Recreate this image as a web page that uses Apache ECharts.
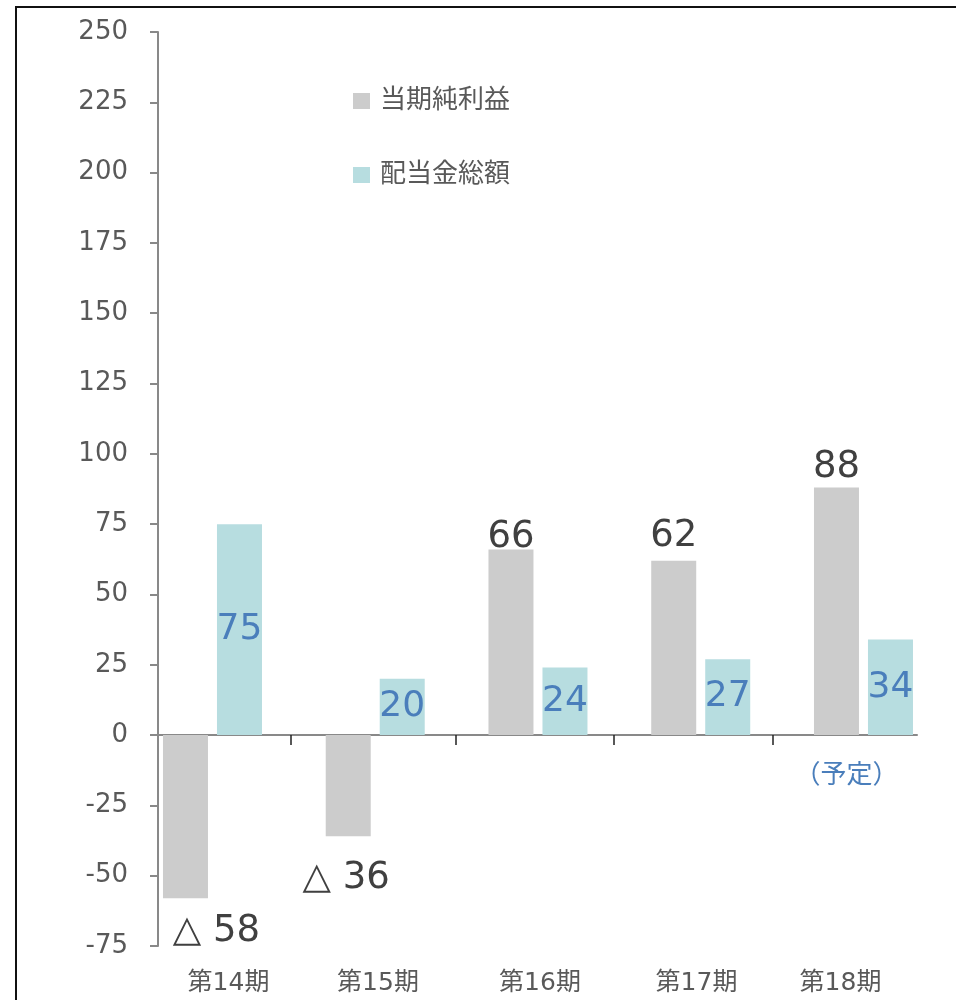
<!DOCTYPE html>
<html>
<head>
<meta charset="utf-8">
<script src="https://cdn.jsdelivr.net/npm/echarts@6/dist/echarts.min.js"></script>
<style>
html,body{margin:0;padding:0;background:#fff;}
#chart{width:956px;height:1000px;}
</style>
</head>
<body>
<div id="chart"></div>
<script>
// ---- data ----
const categories = ['第14期', '第15期', '第16期', '第17期', '第18期'];
const seriesNames = ['当期純利益', '配当金総額'];
const netIncome = [-58, -36, 66, 62, 88];
const dividends = [75, 20, 24, 27, 34];
const yMin = -75, yMax = 250, yInterval = 25;
const planNote = '（予定）';

// ---- style constants ----
const FONT = 'DejaVu Sans, "Noto Sans CJK JP", sans-serif';
const GRAY = '#CCCCCC';
const TEAL = '#B7DDE0';
const BLUE = '#4A7EBB';
const TEXT = '#595959';
// label nudges for the net income labels (px)
const niLabelOffsets = [[31, 10], [-2, 19], [0, 11], [0, -1], [0, 3]];
// axis (grid 1) pixel positions for ticks and category labels
const tickPos = [133, 298, 456, 615];
const labelPos = [70.5, 220, 382, 538.5, 682.5];

const chart = echarts.init(document.getElementById('chart'), null, {renderer: 'canvas'});

const option = {
  animation: false,
  backgroundColor: '#fff',
  textStyle: {fontFamily: FONT},
  graphic: [{
    type: 'rect', silent: true, z: 100,
    shape: {x: 16, y: 7, width: 1200, height: 1200},
    style: {fill: 'none', stroke: '#111', lineWidth: 2}
  }],
  legend: {
    orient: 'vertical', left: 348, top: 83,
    itemWidth: 17, itemHeight: 16, itemGap: 48, icon: 'rect',
    textStyle: {fontSize: 26, color: TEXT, fontFamily: FONT, padding: [0, 0, 0, 5]},
    data: seriesNames
  },
  grid: [
    {left: 131.1, top: 32, width: 813.75, height: 914, outerBoundsMode: 'none', containLabel: false},
    {left: 158, top: 32, width: 759, height: 914, outerBoundsMode: 'none', containLabel: false}
  ],
  xAxis: [
    {gridIndex: 0, type: 'category', data: categories,
     axisLine: {show: false}, axisTick: {show: false}, axisLabel: {show: false}},
    {gridIndex: 1, type: 'value', min: 0, max: 759,
     splitLine: {show: false},
     axisLine: {onZero: true, lineStyle: {color: '#898989', width: 2}},
     axisTick: {show: true, customValues: tickPos, length: 10, lineStyle: {color: '#222', width: 1.5}},
     axisLabel: {
       customValues: labelPos, margin: 25, fontSize: 25, color: TEXT, fontFamily: FONT,
       formatter: function (v) { const i = labelPos.indexOf(v); return i >= 0 ? categories[i] : ''; }
     }}
  ],
  yAxis: [
    {gridIndex: 0, type: 'value', min: yMin, max: yMax, interval: yInterval, show: false},
    {gridIndex: 1, type: 'value', min: yMin, max: yMax, interval: yInterval,
     splitLine: {show: false},
     axisLine: {show: true, lineStyle: {color: '#898989', width: 2}},
     axisTick: {show: true, length: 8, lineStyle: {color: '#898989', width: 2}},
     axisLabel: {fontSize: 26, color: TEXT, margin: 30, fontFamily: FONT}}
  ],
  series: [
    {
      name: seriesNames[0], type: 'bar', xAxisIndex: 0, yAxisIndex: 0,
      barWidth: 45, barGap: '20%',
      itemStyle: {color: GRAY},
      data: netIncome.map((v, i) => ({
        value: v,
        label: {
          show: true,
          position: v < 0 ? 'bottom' : 'top',
          distance: 5,
          offset: niLabelOffsets[i],
          fontSize: 37, color: '#404040', fontFamily: FONT,
          formatter: function (p) { return p.value < 0 ? '△ ' + Math.abs(p.value) : String(p.value); }
        }
      }))
    },
    {
      name: seriesNames[1], type: 'bar', xAxisIndex: 0, yAxisIndex: 0,
      barWidth: 45, barGap: '20%',
      itemStyle: {color: TEAL},
      label: {show: true, position: 'inside', fontSize: 36, color: BLUE, fontFamily: FONT},
      data: dividends,
      markPoint: {
        silent: true,
        symbol: 'circle', symbolSize: 1,
        itemStyle: {color: 'rgba(0,0,0,0)'},
        label: {show: true, position: 'inside', formatter: planNote, color: BLUE, fontSize: 26, offset: [-44, 0], fontFamily: FONT},
        data: [{coord: [categories.length - 1, -14.5]}]
      }
    }
  ]
};
chart.setOption(option);
</script>
</body>
</html>
